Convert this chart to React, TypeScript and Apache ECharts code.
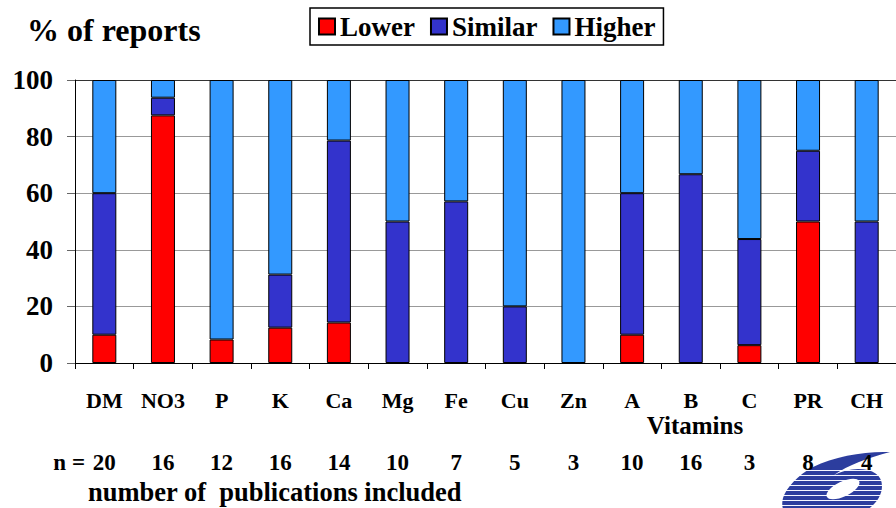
import React, { useEffect, useRef } from "react";
import * as echarts from "echarts";

const categories = ["DM", "NO3", "P", "K", "Ca", "Mg", "Fe", "Cu", "Zn", "A", "B", "C", "PR", "CH"];
const lowerPct = [10, 87.5, 8.3, 12.5, 14.3, 0, 0, 0, 0, 10, 0, 6.3, 50, 0];
const similarPct = [50, 6.25, 0, 18.75, 64.3, 50, 57.1, 20, 0, 50, 66.7, 37.5, 25, 50];
const higherPct = [40, 6.25, 91.7, 68.75, 21.4, 50, 42.9, 80, 100, 40, 33.3, 56.2, 25, 50];
const nCounts = ["20", "16", "12", "16", "14", "10", "7", "5", "3", "10", "16", "3", "8", "4"];
const yTicks = [0, 20, 40, 60, 80, 100];

const FONT = "Liberation Serif";

const LOGO_D =
  "M 110 12 C 85 11 55 16 33 27 C 18 35 6 48 3 58 C 1 66 3 72 8 76 L 75 76 " +
  "C 92 70 102 58 102 46 C 102 35 93 29 78 29 C 70 29 62 31 54 35 C 68 25 88 18 110 12 Z";

function stripeStops() {
  const stops: { offset: number; color: string }[] = [];
  const blue = "#2c3d9e";
  const white = "#f4f6ff";
  const start = 0.22;
  stops.push({ offset: 0, color: blue });
  stops.push({ offset: start, color: blue });
  const n = 20;
  for (let i = 0; i < n; i++) {
    const s = start + ((1 - start) * i) / n;
    const e = start + ((1 - start) * (i + 1)) / n;
    const w = s + (e - s) * 0.68;
    stops.push({ offset: s, color: blue });
    stops.push({ offset: w, color: blue });
    stops.push({ offset: w, color: white });
    stops.push({ offset: e, color: white });
  }
  return stops;
}

export default function App() {
  const ref = useRef<HTMLDivElement>(null);
  useEffect(() => {
    if (!ref.current) return;
    try {
      echarts.graphic.registerShape("logo", echarts.graphic.extendPath(LOGO_D, {}));
    } catch (e) {}
    const chart = echarts.init(ref.current, null, { renderer: "svg" });
    const nz = (a: number[]) => a.map((v) => (v === 0 ? "-" : v));
    const barStyle = { borderColor: "#000", borderWidth: 1 };
    const txt = (size: number) => ({ fontFamily: FONT, fontSize: size, fontWeight: "bold", color: "#000" });
    chart.setOption({
      animation: false,
      backgroundColor: "#fff",
      title: {
        text: "% of reports",
        left: 22,
        top: 9,
        textStyle: txt(32),
      },
      legend: {
        left: 310,
        top: 8,
        padding: [5, 8, 5, 8],
        borderColor: "#000",
        borderWidth: 1.5,
        itemWidth: 16,
        itemHeight: 16,
        itemGap: 15,
        icon: "rect",
        textStyle: txt(27),
        data: ["Lower", "Similar", "Higher"],
      },
      grid: { left: 75, right: -8, top: 80, bottom: 145, containLabel: false },
      xAxis: [
        {
          type: "category",
          data: categories,
          axisLine: { show: true, lineStyle: { color: "#000", width: 1 } },
          axisTick: { show: true, alignWithLabel: false, length: 6, lineStyle: { color: "#000" } },
          axisLabel: { margin: 26, interval: 0, ...txt(22) },
        },
        {
          type: "category",
          data: categories,
          position: "bottom",
          offset: 62,
          axisLine: { show: false },
          axisTick: { show: false },
          axisLabel: {
            margin: 26,
            interval: 0,
            ...txt(23),
            formatter: (_v: string, i: number) => nCounts[i],
          },
        },
      ],
      yAxis: {
        type: "value",
        min: yTicks[0],
        max: yTicks[yTicks.length - 1],
        interval: 20,
        axisLine: { show: true, lineStyle: { color: "#000", width: 1 } },
        axisTick: { show: true, length: 8, lineStyle: { color: "#666" } },
        axisLabel: { margin: 22, ...txt(27) },
        splitLine: {
          show: true,
          lineStyle: { color: ["#000", "#999", "#999", "#999", "#999", "#333"], width: 1 },
        },
      },
      series: [
        {
          name: "Lower",
          type: "bar",
          stack: "s",
          barWidth: 24,
          data: nz(lowerPct),
          itemStyle: { color: "#ff0000", ...barStyle },
        },
        {
          name: "Similar",
          type: "bar",
          stack: "s",
          barWidth: 24,
          data: nz(similarPct),
          itemStyle: { color: "#3333cc", ...barStyle },
        },
        {
          name: "Higher",
          type: "bar",
          stack: "s",
          barWidth: 24,
          data: nz(higherPct),
          itemStyle: { color: "#3399ff", ...barStyle },
        },
      ],
      graphic: [
        {
          type: "logo",
          x: 780,
          y: 440,
          style: {
            fill: new echarts.graphic.LinearGradient(0, 0, 0, 1, stripeStops()),
          },
          z: -2,
        },
        {
          type: "ellipse",
          x: 843,
          y: 489,
          rotation: 0.45,
          shape: { cx: 0, cy: 0, rx: 18, ry: 7.5 },
          style: { fill: "#fff" },
          z: -1,
        },
        {
          type: "text",
          x: 695,
          y: 425,
          style: {
            text: "Vitamins",
            font: `bold 25px ${FONT}`,
            fill: "#000",
            align: "center",
            verticalAlign: "middle",
          },
        },
        {
          type: "text",
          x: 85,
          y: 462,
          style: {
            text: "n =",
            font: `bold 23px ${FONT}`,
            fill: "#000",
            align: "right",
            verticalAlign: "middle",
          },
        },
        {
          type: "text",
          x: 88,
          y: 492,
          style: {
            text: "number of  publications included",
            font: `bold 26.5px ${FONT}`,
            fill: "#000",
            verticalAlign: "middle",
          },
        },
      ],
    });
    return () => chart.dispose();
  }, []);
  return (
    <div
      ref={ref}
      style={{ position: "fixed", left: 0, top: 0, width: 896, height: 508, background: "#fff" }}
    />
  );
}
